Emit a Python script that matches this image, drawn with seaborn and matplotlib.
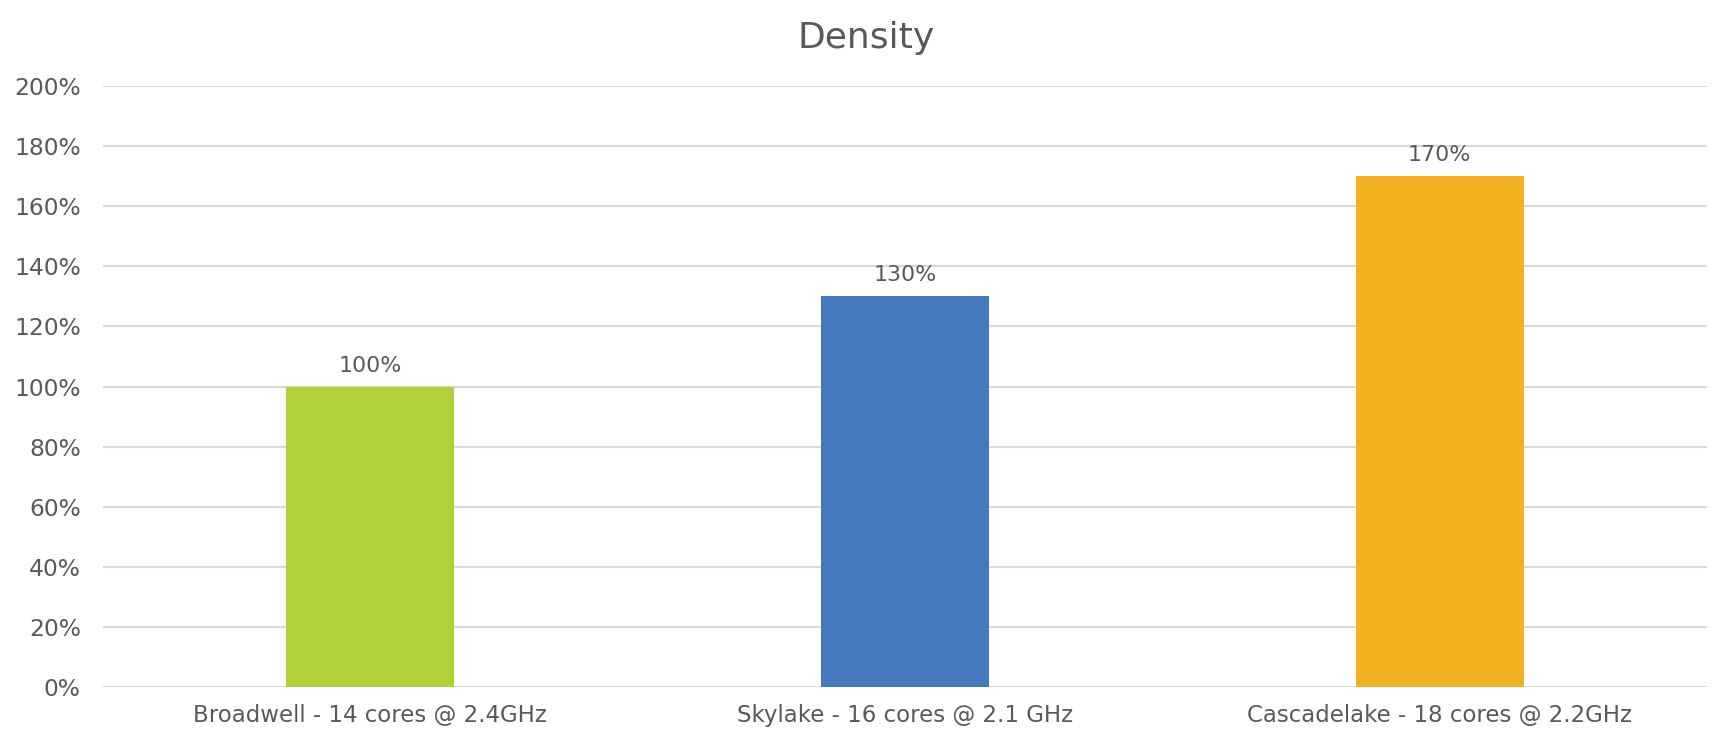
import matplotlib
matplotlib.use("Agg")
import matplotlib.pyplot as plt
import seaborn as sns
import pandas as pd

categories = ["Broadwell - 14 cores @ 2.4GHz", "Skylake - 16 cores @ 2.1 GHz", "Cascadelake - 18 cores @ 2.2GHz"]
values = [100, 130, 170]
colors = ["#B0D236", "#4479BD", "#F3B222"]
y_ticks = [0, 20, 40, 60, 80, 100, 120, 140, 160, 180, 200]
title = "Density"

sns.set_theme(style="white")
plt.rcParams['font.family'] = ['DejaVu Sans']
text_color = "#595959"

df = pd.DataFrame({"cat": categories, "val": values})

fig = plt.figure(figsize=(17.32, 7.44), dpi=100)
ax = fig.add_axes([103/1732, 1 - 687/744, (1707-103)/1732, (687-86)/744])
sns.barplot(data=df, x="cat", y="val", hue="cat", palette=colors, width=0.314,
            legend=False, ax=ax, saturation=1, zorder=3, linewidth=0)
ax.set_xlim(-0.5, 2.5)
ax.set_ylim(0, 200)
ax.set_yticks(y_ticks)
ax.set_yticklabels([f"{t}%" for t in y_ticks], color=text_color, fontsize=16.8)
ax.tick_params(axis='x', labelsize=16.5, labelcolor=text_color, length=0, pad=12)
ax.tick_params(axis='y', length=0, pad=16)
ax.set_xlabel("")
ax.set_ylabel("")
for s in ax.spines.values():
    s.set_visible(False)
ax.yaxis.grid(True, color="#D9D9D9", linewidth=1.5, zorder=0)
ax.set_axisbelow(True)
for i, v in enumerate(values):
    ax.annotate(f"{v}%", (i, v), xytext=(0, 10.8), textcoords="offset points",
                ha="center", va="baseline", fontsize=15.9, color=text_color)
fig.text(0.5, 1 - 48/744, title, ha="center", va="baseline",
         fontsize=26, color=text_color)
fig.savefig("out.png", dpi=100, facecolor="white")
